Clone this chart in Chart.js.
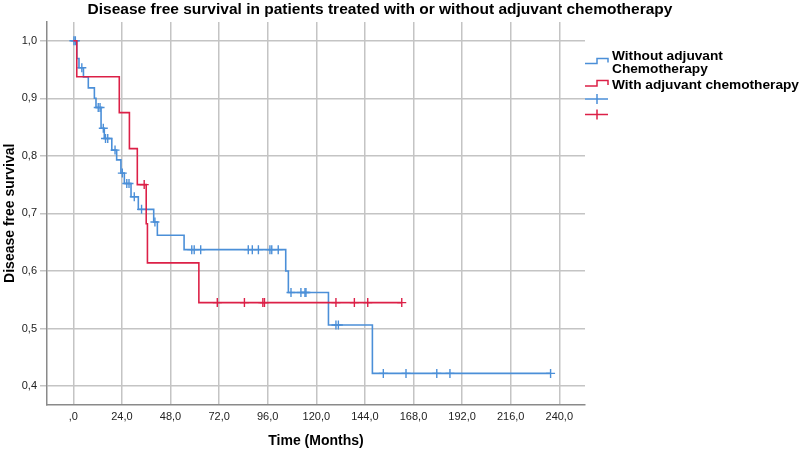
<!DOCTYPE html>
<html>
<head>
<meta charset="utf-8">
<title>Disease free survival</title>
<script src="https://cdn.jsdelivr.net/npm/chart.js@4.4.1/dist/chart.umd.min.js"></script>
<style>
  html, body { margin: 0; padding: 0; background: #fff; }
</style>
</head>
<body>
<canvas id="grafico-km" width="800" height="453"></canvas>
<script>
// Curva sem quimioterapia adjuvante (tempo em meses, sobrevida)
const semTempos = [0, 1.7, 2.8, 5.0, 7.4, 10.4, 11.2, 13.7, 15.3, 19.0, 21.4, 23.5, 25.2, 28.5, 32.1, 39.7, 41.5, 54.7, 104.9, 106.2, 126.0, 147.7, 235.7];
const semSobrevida = [1.0, 0.969, 0.953, 0.937, 0.918, 0.900, 0.884, 0.848, 0.830, 0.810, 0.793, 0.770, 0.752, 0.729, 0.707, 0.685, 0.662, 0.637, 0.600, 0.5625, 0.506, 0.422, 0.422];
// Censuras sem quimioterapia
const semCensTempos = [0.3, 1.0, 4.2, 12.3, 13.2, 14.8, 15.9, 17.0, 20.6, 24.2, 26.4, 27.5, 30.1, 33.7, 40.3, 58.5, 59.7, 62.9, 86.4, 88.4, 91.4, 97.1, 98.0, 101.2, 107.5, 112.4, 114.4, 114.9, 129.7, 130.9, 153.1, 164.3, 179.5, 186.0, 235.7];
const semCensValores = [1.0, 1.0, 0.953, 0.884, 0.884, 0.848, 0.830, 0.830, 0.810, 0.770, 0.752, 0.752, 0.729, 0.707, 0.685, 0.637, 0.637, 0.637, 0.637, 0.637, 0.637, 0.637, 0.637, 0.637, 0.5625, 0.5625, 0.5625, 0.5625, 0.506, 0.506, 0.422, 0.422, 0.422, 0.422, 0.422];

// Curva com quimioterapia adjuvante
const comTempos = [0, 1.7, 22.7, 27.7, 31.6, 36.0, 36.6, 62.0, 162.2];
const comSobrevida = [1.0, 0.9375, 0.875, 0.8125, 0.75, 0.682, 0.614, 0.545, 0.545];
// Censuras com quimioterapia
const comCensTempos = [35.0, 71.1, 84.5, 93.6, 94.4, 129.7, 138.8, 145.4, 162.2];
const comCensValores = [0.75, 0.545, 0.545, 0.545, 0.545, 0.545, 0.545, 0.545, 0.545];

// Ticks e rótulos dos eixos
const xTicks = [0, 24, 48, 72, 96, 120, 144, 168, 192, 216, 240];
const xRotulos = [',0', '24,0', '48,0', '72,0', '96,0', '120,0', '144,0', '168,0', '192,0', '216,0', '240,0'];
const yTicks = [0.4, 0.5, 0.6, 0.7, 0.8, 0.9, 1.0];
const yRotulos = ['0,4', '0,5', '0,6', '0,7', '0,8', '0,9', '1,0'];

const titulo = 'Disease free survival in patients treated with or without adjuvant chemotherapy';
const legendaTextos = [['Without adjuvant', 'Chemotherapy'], ['With adjuvant chemotherapy'], [], []];

const AZUL = '#4b8fd8';
const VERMELHO = '#dc2047';
const GRADE = '#c4c4c4';
const FONTE = '"Liberation Sans", Arial, sans-serif';

function pontos(xs, ys) {
    return xs.map((x, i) => ({ x: x, y: ys[i] }));
}

// Plugin para título e legenda no estilo SPSS
const extrasKM = {
    id: 'extrasKM',
    afterDraw(chart) {
        const ctx = chart.ctx;
        ctx.save();
        ctx.fillStyle = '#000';
        ctx.font = 'bold 15.5px ' + FONTE;
        ctx.textAlign = 'center';
        ctx.textBaseline = 'middle';
        ctx.fillText(titulo, 380, 10);

        // ícones da legenda
        ctx.lineWidth = 1.5;
        const degrau = (cor, yBaixo, yAlto) => {
            ctx.strokeStyle = cor;
            ctx.beginPath();
            ctx.moveTo(585, yBaixo);
            ctx.lineTo(597, yBaixo);
            ctx.lineTo(597, yAlto);
            ctx.lineTo(608, yAlto);
            ctx.lineTo(608, yBaixo - 1);
            ctx.stroke();
        };
        const cruz = (cor, y) => {
            ctx.strokeStyle = cor;
            ctx.beginPath();
            ctx.moveTo(585, y);
            ctx.lineTo(608, y);
            ctx.moveTo(597, y - 5);
            ctx.lineTo(597, y + 5);
            ctx.stroke();
        };
        degrau(AZUL, 63.5, 58.5);
        degrau(VERMELHO, 86, 80.5);
        cruz(AZUL, 99);
        cruz(VERMELHO, 114.5);

        ctx.fillStyle = '#000';
        ctx.font = 'bold 13.7px ' + FONTE;
        ctx.textAlign = 'left';
        ctx.textBaseline = 'alphabetic';
        ctx.fillText(legendaTextos[0][0], 612, 59.5);
        ctx.fillText(legendaTextos[0][1], 612, 73);
        ctx.fillText(legendaTextos[1][0], 612, 89);
        ctx.restore();
    }
};

function criarGrafico() {
    const ctx = document.getElementById('grafico-km');
    new Chart(ctx, {
        type: 'scatter',
        data: {
            datasets: [
                {
                    label: 'With adjuvant chemotherapy',
                    data: pontos(comTempos, comSobrevida),
                    showLine: true,
                    stepped: 'before',
                    borderColor: VERMELHO,
                    borderWidth: 1.6,
                    pointRadius: 0,
                    fill: false
                },
                {
                    label: 'censored with',
                    data: pontos(comCensTempos, comCensValores),
                    showLine: false,
                    pointStyle: 'cross',
                    pointRadius: 4.5,
                    borderColor: VERMELHO,
                    borderWidth: 1.4
                },
                {
                    label: 'Without adjuvant Chemotherapy',
                    data: pontos(semTempos, semSobrevida),
                    showLine: true,
                    stepped: 'before',
                    borderColor: AZUL,
                    borderWidth: 1.6,
                    pointRadius: 0,
                    fill: false
                },
                {
                    label: 'censored without',
                    data: pontos(semCensTempos, semCensValores),
                    showLine: false,
                    pointStyle: 'cross',
                    pointRadius: 4.5,
                    borderColor: AZUL,
                    borderWidth: 1.4
                }
            ]
        },
        options: {
            responsive: false,
            animation: false,
            events: [],
            layout: { padding: { top: 22, right: 215, left: 0, bottom: 0 } },
            plugins: {
                legend: { display: false },
                tooltip: { enabled: false },
                title: { display: false }
            },
            scales: {
                x: {
                    type: 'linear',
                    min: -13.0,
                    max: 252.7,
                    afterBuildTicks: (scale) => { scale.ticks = xTicks.map(v => ({ value: v })); },
                    afterFit: (scale) => { scale.height = 48.5; },
                    ticks: {
                        callback: (v) => xRotulos[xTicks.indexOf(v)],
                        color: '#222',
                        font: { family: FONTE, size: 11 },
                        padding: 6,
                        maxRotation: 0
                    },
                    grid: { color: GRADE, lineWidth: 1.5, drawTicks: false },
                    border: { display: true, color: '#8a8a8a', width: 1.5 },
                    title: {
                        display: true,
                        text: 'Time (Months)',
                        color: '#000',
                        font: { family: FONTE, size: 14, weight: 'bold' },
                        padding: { top: 0, bottom: 3.6 }
                    }
                },
                y: {
                    type: 'linear',
                    min: 0.368,
                    max: 1.0325,
                    afterBuildTicks: (scale) => { scale.ticks = yTicks.map(v => ({ value: v })); },
                    afterFit: (scale) => { scale.width = 47; },
                    ticks: {
                        callback: (v) => yRotulos[yTicks.findIndex(t => Math.abs(t - v) < 1e-6)],
                        color: '#222',
                        font: { family: FONTE, size: 11 },
                        padding: 3
                    },
                    grid: { color: GRADE, lineWidth: 1.5, drawTicks: true, tickLength: 7 },
                    border: { display: true, color: '#8a8a8a', width: 1.5 },
                    title: {
                        display: true,
                        text: 'Disease free survival',
                        color: '#000',
                        font: { family: FONTE, size: 14, weight: 'bold' },
                        padding: { top: 1.6, bottom: 0 }
                    }
                }
            }
        },
        plugins: [extrasKM]
    });
}

criarGrafico();
</script>
</body>
</html>
